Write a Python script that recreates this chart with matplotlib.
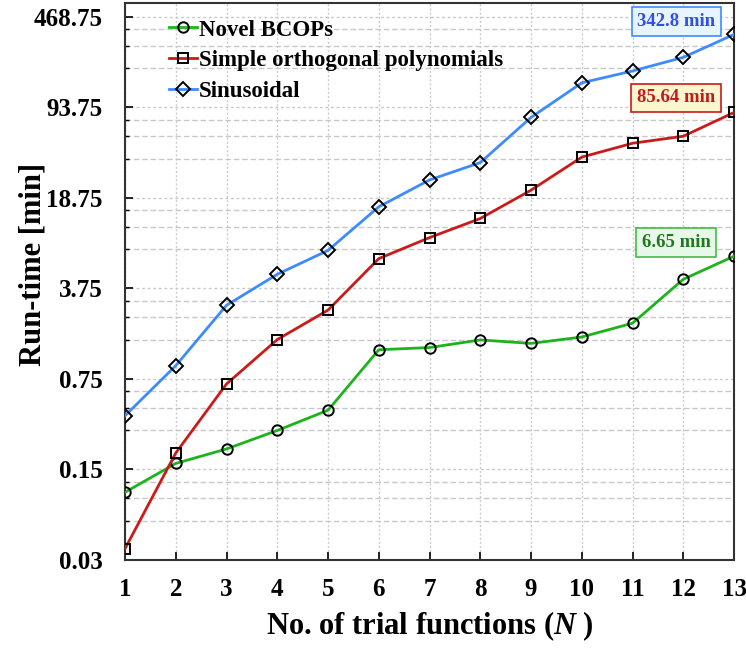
import matplotlib
matplotlib.use("Agg")
import matplotlib.pyplot as plt
from matplotlib.ticker import FixedLocator, FixedFormatter, NullFormatter

plt.rcParams["font.family"] = ["Liberation Serif", "DejaVu Serif"]
plt.rcParams["font.weight"] = "bold"
plt.rcParams["mathtext.fontset"] = "custom"
plt.rcParams["mathtext.it"] = "Liberation Serif:italic:bold"
plt.rcParams["mathtext.rm"] = "Liberation Serif:bold"

n_trial = list(range(1, 14))
bcops = [0.100, 0.167, 0.216, 0.30, 0.43, 1.26, 1.31, 1.50, 1.41, 1.58, 2.02, 4.41, 6.65]
simple_orth = [0.0367, 0.201, 0.686, 1.51, 2.55, 6.37, 9.25, 13.0, 21.5, 38.7, 49.5, 56.1, 85.64]
sinusoidal = [0.39, 0.95, 2.78, 4.82, 7.37, 16.0, 25.8, 35.1, 78.4, 145, 179, 228, 342.8]

series_names = ["Novel BCOPs", "Simple orthogonal polynomials", "Sinusoidal"]
y_ticks = [0.03, 0.15, 0.75, 3.75, 18.75, 93.75, 468.75]
y_tick_labels = ["0.03", "0.15", "0.75", "3.75", "18.75", "93.75", "468.75"]

green = "#1db31d"
red = "#cc1a1a"
blue = "#3d8bff"

fig = plt.figure(figsize=(7.46, 6.5), dpi=100)
ax = fig.add_axes([0.1676, 0.1385, 0.8164, 0.857])

ax.plot(n_trial, bcops, color=green, lw=2, marker="o", ms=7.5, mfc="none",
        mec="black", mew=1.4, label=series_names[0], zorder=3)
ax.plot(n_trial, simple_orth, color=red, lw=2, marker="s", ms=7.5, mfc="none",
        mec="black", mew=1.4, label=series_names[1], zorder=3)
ax.plot(n_trial, sinusoidal, color=blue, lw=2, marker="D", ms=7, mfc="none",
        mec="black", mew=1.4, label=series_names[2], zorder=3)

ax.set_yscale("log", base=5)
ax.set_ylim(0.03, 600)
ax.set_xlim(1, 13)
ax.yaxis.set_major_locator(FixedLocator(y_ticks))
ax.yaxis.set_major_formatter(FixedFormatter(y_tick_labels))
# minor lines at 2x, 3x, 4x each major value
ax.yaxis.set_minor_locator(FixedLocator([t * s for t in y_ticks for s in (2, 3, 4)]))
ax.yaxis.set_minor_formatter(NullFormatter())
ax.set_xticks(n_trial)

ax.grid(True, which="major", axis="y", color="#c8c8c8", ls=(0, (2, 2)), lw=1)
ax.grid(True, which="minor", axis="y", color="#c8c8c8", ls=(0, (4, 2)), lw=1)
ax.grid(True, which="major", axis="x", color="#cccccc", ls=(0, (1.5, 1.5)), lw=1)

ax.tick_params(axis="both", which="major", direction="in", length=6, width=1.2,
               labelsize=18)
ax.tick_params(axis="y", which="major", pad=16)
ax.tick_params(axis="x", which="major", pad=13)
ax.tick_params(axis="y", which="minor", direction="in", length=3, width=1)
for lab in ax.get_xticklabels() + ax.get_yticklabels():
    lab.set_fontweight("bold")
for side in ax.spines.values():
    side.set_linewidth(1.5)
    side.set_color("#333333")

ax.set_xlabel("No. of trial functions ($\\mathit{N}$ )", fontsize=22, fontweight="bold", labelpad=6)
ax.set_ylabel("Run-time [min]", fontsize=22, fontweight="bold")
ax.yaxis.set_label_coords(-0.128, 0.53)

leg = ax.legend(loc="upper left", bbox_to_anchor=(0.05, 0.995), frameon=False,
                prop={"size": 16.5, "weight": "bold"}, handlelength=1.2,
                handletextpad=0.1, labelspacing=0.42, borderaxespad=0.2)

box_specs = [
    (sinusoidal[-1], "342.8 min", blue, "#e8f4ff", "#2f4fe8", 1.257),
    (simple_orth[-1], "85.64 min", red, "#fff6d0", "#c41a1a", 1.30),
    (bcops[-1], "6.65 min", "#44bb44", "#e8f8e8", "#1f7a1f", 1.274),
]
for val, txt, edge, face, tcol, fac in box_specs:
    ax.text(11.86, val * fac, txt, ha="center", va="center", fontsize=13.5,
            fontweight="bold", color=tcol,
            bbox=dict(boxstyle="square,pad=0.3", fc=face, ec=edge, lw=1.2))

fig.savefig("out.png", dpi=100)
